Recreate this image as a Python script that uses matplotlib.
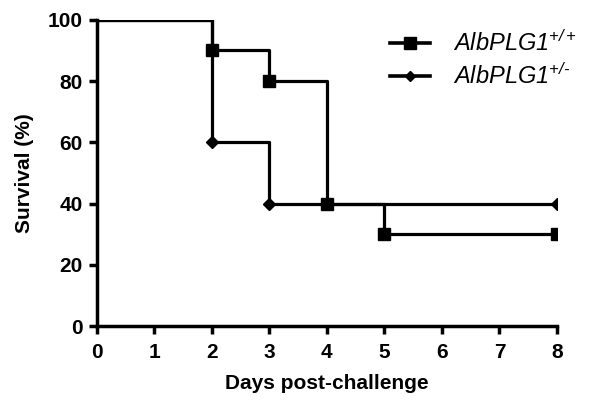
import matplotlib.pyplot as plt
from matplotlib.lines import Line2D

plt.rcParams['font.family'] = ['Liberation Sans', 'DejaVu Sans']
plt.rcParams['mathtext.fontset'] = 'custom'
plt.rcParams['mathtext.it'] = 'Liberation Sans:italic'
plt.rcParams['mathtext.rm'] = 'Liberation Sans:italic'
plt.rcParams['mathtext.default'] = 'it'

# survival steps (day, percent)
wt_days = [0, 2, 3, 4, 5, 8]
wt_surv = [100, 90, 80, 40, 30, 30]
wt_mark_days = [2, 3, 4, 5, 8]
wt_mark_surv = [90, 80, 40, 30, 30]

het_days = [0, 2, 3, 8]
het_surv = [100, 60, 40, 40]
het_mark_days = [2, 3, 8]
het_mark_surv = [60, 40, 40]

labels = ['AlbPLG1$^{+/+}$', 'AlbPLG1$^{+/\u2010}$']

fig = plt.figure(figsize=(5.9, 4.05), dpi=100)
ax = fig.add_axes([0.164, 0.195, 0.78, 0.756])

ax.step(wt_days, wt_surv, where='post', color='black', lw=2.3, zorder=3)
ax.plot(wt_mark_days, wt_mark_surv, 's', color='black', ms=9, zorder=4)
ax.step(het_days, het_surv, where='post', color='black', lw=2.3, zorder=3)
ax.plot(het_mark_days, het_mark_surv, 'D', color='black', ms=6, zorder=4)

ax.set_xlim(0, 8)
ax.set_ylim(0, 100)
ax.set_xticks(range(0, 9))
ax.set_yticks(range(0, 101, 20))
for s in ['top', 'right']:
    ax.spines[s].set_visible(False)
for s in ['left', 'bottom']:
    ax.spines[s].set_linewidth(2.5)
ax.tick_params(width=2.5, length=6, labelsize=15)
ax.tick_params(axis='x', pad=6)
ax.tick_params(axis='y', pad=4)
for t in ax.get_xticklabels() + ax.get_yticklabels():
    t.set_fontweight('bold')
ax.set_xlabel('Days post-challenge', fontsize=15, fontweight='bold', labelpad=9)
ax.set_ylabel('Survival (%)', fontsize=15, fontweight='bold', labelpad=10)

handles = [Line2D([], [], color='black', lw=2.6, marker='s', ms=8),
           Line2D([], [], color='black', lw=2.6, marker='D', ms=5)]
leg = ax.legend(handles, labels,
                loc='upper left', bbox_to_anchor=(0.59, 1.035), frameon=False,
                prop={'size': 17, 'style': 'italic'}, handlelength=1.7,
                labelspacing=0.32, handletextpad=1.0)

ax.patch.set_alpha(0)
fig.savefig('out.png', dpi=100)
